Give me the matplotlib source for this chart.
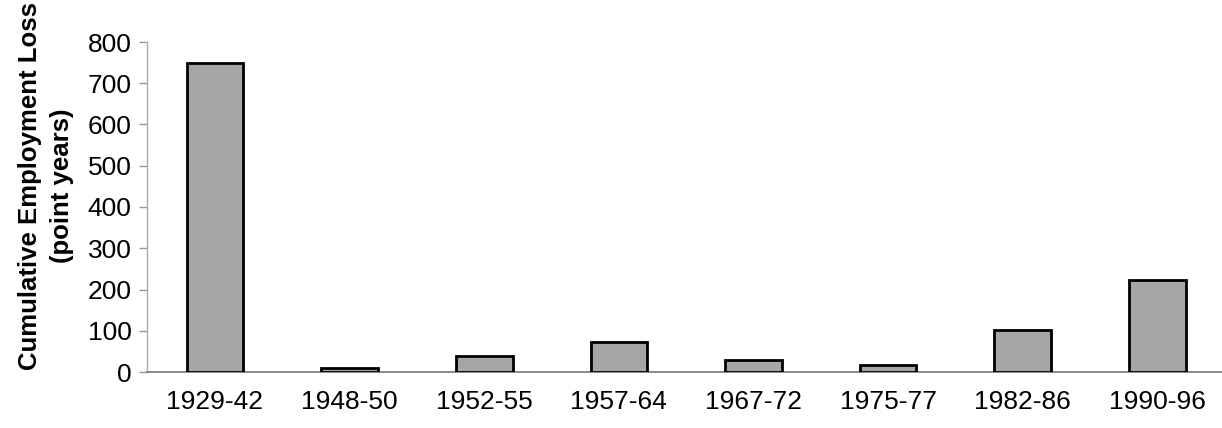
import matplotlib
matplotlib.use("Agg")
import matplotlib.pyplot as plt

periods = ["1929-42", "1948-50", "1952-55", "1957-64", "1967-72", "1975-77", "1982-86", "1990-96"]
loss = [750, 10, 40, 73, 30, 16, 102, 222]
yticks = [0, 100, 200, 300, 400, 500, 600, 700, 800]

plt.rcParams['font.family'] = ['Liberation Sans', 'DejaVu Sans']

fig = plt.figure(figsize=(12.22, 4.28), dpi=100)
ax = fig.add_axes([147/1222, 1 - 372/428, 1 - 147/1222, (372 - 42)/428])

x = list(range(len(periods)))
ax.bar(x, loss, width=0.42, color="#a6a6a6", edgecolor="black", linewidth=2, zorder=3)

ax.set_xlim(-0.505, 7.48)
ax.set_ylim(0, 800)
ax.set_yticks(yticks)
ax.set_xticks(x)
ax.set_xticklabels(periods, fontsize=19)
ax.tick_params(axis='x', length=0, pad=13)
ax.tick_params(axis='y', labelsize=19, length=6, width=1, color="#999999", pad=5, direction='out')

for s in ["top", "right"]:
    ax.spines[s].set_visible(False)
ax.spines["left"].set_color("#aaaaaa")
ax.spines["left"].set_linewidth(1)
ax.spines["bottom"].set_color("#777777")
ax.spines["bottom"].set_linewidth(1.2)

ax.set_ylabel("Cumulative Employment Loss\n(point years)", fontsize=18.5, fontweight="bold", linespacing=1.4)
ax.yaxis.set_label_coords(-73/1075, 0.565)

fig.savefig("out.png", dpi=100)
